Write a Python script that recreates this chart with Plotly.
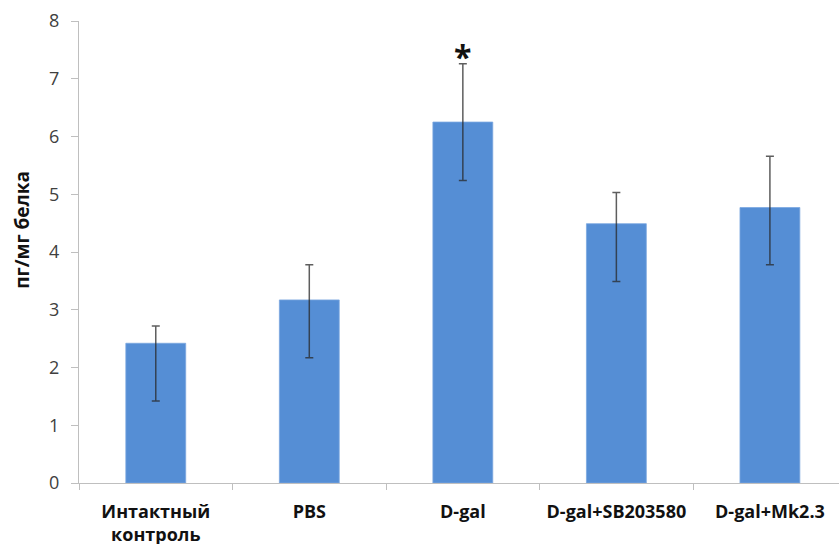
import plotly.graph_objects as go

categories = ["Интактный<br>контроль", "PBS", "D-gal", "D-gal+SB203580", "D-gal+Mk2.3"]
values = [2.42, 3.17, 6.25, 4.49, 4.77]
err_plus = [0.30, 0.61, 1.01, 0.54, 0.89]
err_minus = [1.00, 1.00, 1.01, 1.00, 0.99]
y_ticks = [0, 1, 2, 3, 4, 5, 6, 7, 8]
star_label = "*"
star_index = 2
y_title = "пг/мг белка"

fig = go.Figure()
fig.add_trace(go.Bar(
    x=categories, y=values,
    marker=dict(color="#558ED5", line=dict(color="#7BA7E0", width=0.8)),
    width=0.39,
    error_y=dict(type="data", symmetric=False, array=err_plus, arrayminus=err_minus,
                 color="rgba(40,40,40,0.75)", thickness=1.5, width=4),
    showlegend=False,
))

fig.add_annotation(
    x=categories[star_index], y=values[star_index] + err_plus[star_index],
    xref="x", yref="y", text="<b>" + star_label + "</b>", showarrow=False,
    xanchor="center", yanchor="bottom", yshift=-16,
    font=dict(family="Open Sans", size=32, color="#111111"),
)

fig.add_annotation(
    x=-0.075, y=0.548, xref="paper", yref="paper", text="<b>" + y_title + "</b>",
    textangle=-90, showarrow=False, xanchor="center", yanchor="middle",
    font=dict(family="Open Sans", size=19, color="#111111"),
)

fig.update_layout(
    width=839, height=544,
    margin=dict(l=79, r=0, t=21, b=61, autoexpand=False),
    plot_bgcolor="white", paper_bgcolor="white",
    hovermode=False,
    xaxis=dict(
        type="category", range=[-0.5, 4.45], automargin=False,
        showline=True, linecolor="#BFBFBF", linewidth=1,
        ticks="outside", tickson="boundaries", ticklen=6, tickcolor="#BFBFBF",
        showgrid=False, zeroline=False,
        tickfont=dict(family="Open Sans", size=18, color="#111111", weight="bold"),
        ticklabelstandoff=12,
    ),
    yaxis=dict(
        range=[0, 8], tickvals=y_ticks, automargin=False,
        showline=True, linecolor="#BFBFBF", linewidth=1,
        ticks="outside", ticklen=7, tickcolor="#BFBFBF",
        showgrid=False, zeroline=False,
        tickfont=dict(family="Open Sans", size=18, color="#404040"),
        ticklabelstandoff=8,
    ),
)

fig.write_html("out.html", config={"displayModeBar": False},
               post_script="document.body.style.margin='0';")
